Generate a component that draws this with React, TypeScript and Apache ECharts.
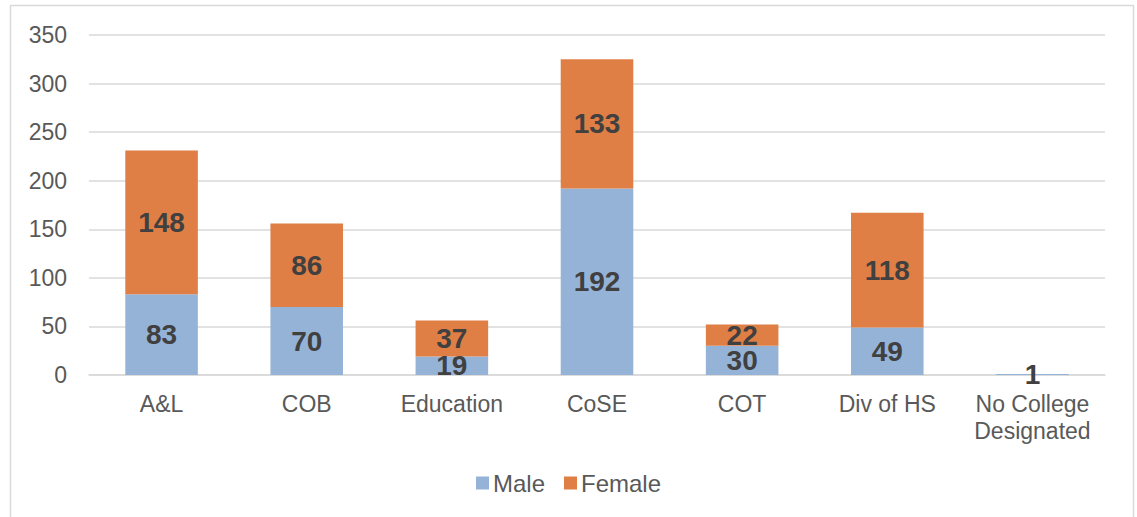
import React, { useEffect, useRef } from "react";
import * as echarts from "echarts";

const categories = ["A&L", "COB", "Education", "CoSE", "COT", "Div of HS", "No College\nDesignated"];
const maleValues = [83, 70, 19, 192, 30, 49, 1];
const femaleValues = [148, 86, 37, 133, 22, 118, 0];
const yTicks = { min: 0, max: 350, interval: 50 };

export default function App() {
  const ref = useRef<HTMLDivElement>(null);
  useEffect(() => {
    if (!ref.current) return;
    const chart = echarts.init(ref.current, null, { renderer: "svg" });
    const font = "'Liberation Sans', Arial, sans-serif";
    const labelCfg = {
      show: true,
      position: "inside",
      color: "#404040",
      fontFamily: font,
      fontSize: 28,
      fontWeight: "bold",
      formatter: (p: any) => (p.value === 0 ? "" : String(p.value)),
    };
    chart.setOption({
      animation: false,
      backgroundColor: "#ffffff",
      textStyle: { fontFamily: font },
      graphic: [
        {
          type: "rect",
          shape: { x: 10.5, y: 5.5, width: 1123, height: 530 },
          style: { fill: "none", stroke: "#d9d9d9", lineWidth: 1.5 },
          silent: true,
        },
      ],
      grid: { left: 89, right: 32, top: 35, bottom: 142, containLabel: false },
      legend: {
        data: ["Male", "Female"],
        bottom: 17,
        left: "center",
        itemWidth: 13,
        itemHeight: 13,
        itemGap: 19,
        icon: "rect",
        textStyle: { color: "#595959", fontSize: 24, fontFamily: font, padding: [0, 0, 0, -1] },
      },
      xAxis: {
        type: "category",
        data: categories,
        axisLine: { show: true, lineStyle: { color: "#d9d9d9", width: 1.5 } },
        axisTick: { show: false },
        axisLabel: {
          color: "#595959",
          fontSize: 23,
          fontFamily: font,
          lineHeight: 27,
          margin: 15,
          interval: 0,
        },
      },
      yAxis: {
        type: "value",
        min: yTicks.min,
        max: yTicks.max,
        interval: yTicks.interval,
        axisLine: { show: false },
        axisTick: { show: false },
        splitLine: { lineStyle: { color: "#d9d9d9", width: 1.5 } },
        axisLabel: { color: "#595959", fontSize: 23, fontFamily: font, margin: 22 },
      },
      series: [
        {
          name: "Male",
          type: "bar",
          stack: "total",
          data: maleValues,
          barWidth: "50%",
          itemStyle: { color: "#95B3D7" },
          label: labelCfg,
        },
        {
          name: "Female",
          type: "bar",
          stack: "total",
          data: femaleValues,
          barWidth: "50%",
          itemStyle: { color: "#E07F45" },
          label: labelCfg,
        },
      ],
    });
    return () => chart.dispose();
  }, []);
  return (
    <div
      ref={ref}
      style={{ position: "absolute", left: 0, top: 0, width: 1137, height: 517 }}
    />
  );
}
